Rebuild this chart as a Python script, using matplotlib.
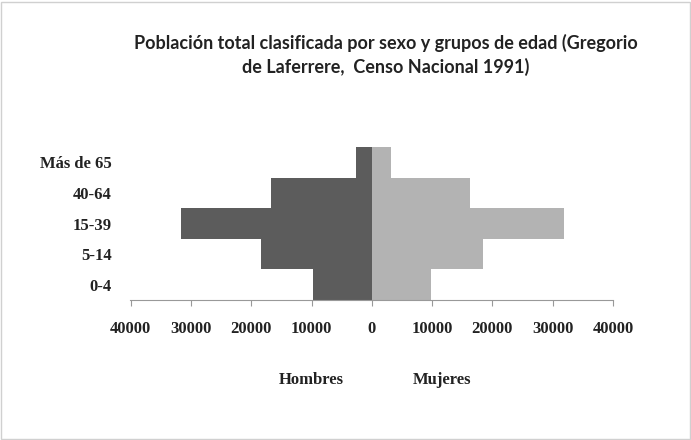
import numpy as np
import matplotlib.pyplot as plt
from matplotlib.patches import Rectangle

grupos = ['0-4', '5-14', '15-39', '40-64', 'Más de 65']
hombres = [9700, 18300, 31600, 16700, 2600]
mujeres = [9800, 18500, 31800, 16300, 3200]
ticks = [-40000, -30000, -20000, -10000, 0, 10000, 20000, 30000, 40000]
tick_labels = ['40000', '30000', '20000', '10000', '0', '10000', '20000', '30000', '40000']

fig = plt.figure(figsize=(6.91, 4.4), dpi=100)
fig.patches.append(Rectangle((0.002, 0.002), 0.996, 0.994, transform=fig.transFigure,
                             fill=False, edgecolor='#d0d0d0', linewidth=1))

ax = fig.add_axes([130/691, 1 - 300/440, 483/691, 153/440])
y = np.arange(len(grupos))
ax.barh(y, [-h for h in hombres], height=1.0, color='#5c5c5c', edgecolor='none')
ax.barh(y, mujeres, height=1.0, color='#b3b3b3', edgecolor='none')

ax.set_xlim(-40100, 40000)
ax.set_ylim(-0.5, 4.5)
ax.set_xticks(ticks)
ax.set_xticklabels(tick_labels, fontfamily='Liberation Serif', fontweight='bold',
                   fontsize=12, color='#222222')
ax.set_yticks(y)
ax.set_yticklabels(grupos, fontfamily='Liberation Serif', fontweight='bold',
                   fontsize=12, color='#222222')
ax.tick_params(axis='y', length=0, pad=13)
ax.tick_params(axis='x', length=4, direction='out', color='#999999', pad=11)

for s in ['top', 'right', 'left']:
    ax.spines[s].set_visible(False)
ax.spines['bottom'].set_color('#999999')

fig.text(386/691, 1 - 43/440, 'Población total clasificada por sexo y grupos de edad (Gregorio',
         ha='center', va='center', fontfamily='Lato', fontweight='bold', fontsize=13, color='#222222')
fig.text(386/691, 1 - 67/440, 'de Laferrere,  Censo Nacional 1991)',
         ha='center', va='center', fontfamily='Lato', fontweight='bold', fontsize=13, color='#222222')

fig.text(311/691, 1 - 380/440, 'Hombres', ha='center', va='center',
         fontfamily='Liberation Serif', fontweight='bold', fontsize=12, color='#222222')
fig.text(442/691, 1 - 380/440, 'Mujeres', ha='center', va='center',
         fontfamily='Liberation Serif', fontweight='bold', fontsize=12, color='#222222')

fig.savefig('out.png', dpi=100)
